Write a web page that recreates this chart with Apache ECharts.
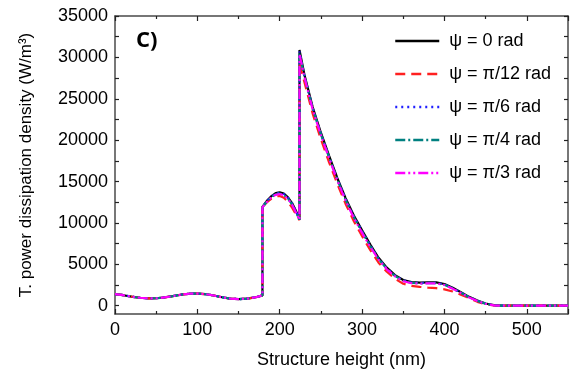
<!DOCTYPE html>
<html><head><meta charset="utf-8">
<script src="https://cdn.jsdelivr.net/npm/echarts@6/dist/echarts.min.js"></script>
<style>html,body{margin:0;padding:0;background:#fff}#c{width:570px;height:374px}</style>
</head><body><div id="c"></div>
<script>
// Structure height (nm) and dissipation density (W/m^3) per angle
const xBlack = [0,10,20,30,40,50,60,70,80,90,100,110,120,130,140,150,160,170,179,179,185,190,195,200,205,210,215,220,224,224,230,240,250,260,270,280,290,300,310,320,330,340,350,360,370,380,390,400,410,420,430,440,450,460,470,480,500,520,550];
const yPsi0   = [1400,1270,1100,960,890,900,1000,1150,1330,1450,1470,1400,1230,1020,850,800,850,1000,1250,11950,12750,13250,13600,13700,13550,13100,12400,11400,10450,30900,27900,24000,20900,18100,15400,13000,10900,9100,7400,5800,4600,3700,3100,2850,2800,2820,2820,2620,2170,1620,1070,620,270,70,0,0,0,0,0];
const yPsi12  = [1400,1270,1100,960,890,900,1000,1150,1330,1450,1470,1400,1230,1020,850,800,850,1000,1250,11900,12550,12950,13200,13250,13050,12550,11850,10950,10350,29300,27000,23200,20100,17300,14700,12300,10200,8400,6700,5200,4100,3250,2650,2400,2280,2180,2120,1980,1720,1320,920,470,170,30,0,0,0,0,0];
const yPsi6   = [1400,1270,1100,960,890,900,1000,1150,1330,1450,1470,1400,1230,1020,850,800,850,1000,1250,11950,12700,13200,13550,13650,13500,13050,12350,11350,10420,30700,27800,23900,20800,18000,15300,12900,10800,9000,7300,5700,4500,3650,3050,2800,2750,2770,2770,2560,2120,1580,1040,600,260,60,0,0,0,0,0];
const yPsi4   = [1400,1270,1100,960,890,900,1000,1150,1330,1450,1470,1400,1230,1020,850,800,850,1000,1250,11900,12650,13150,13450,13550,13400,12950,12250,11250,10400,30500,27700,23800,20700,17900,15200,12800,10700,8900,7200,5650,4450,3600,3000,2750,2700,2720,2720,2520,2080,1550,1020,580,250,60,0,0,0,0,0];
const yPsi3   = [1400,1270,1100,960,890,900,1000,1150,1330,1450,1470,1400,1230,1020,850,800,850,1000,1250,11900,12600,13100,13400,13500,13350,12900,12200,11200,10380,30400,27600,23700,20600,17800,15100,12700,10600,8800,7100,5600,4400,3550,2950,2720,2680,2700,2700,2500,2060,1530,1000,570,240,50,0,0,0,0,0];
const seriesNames = ['ψ = 0 rad','ψ = π/12 rad','ψ = π/6 rad','ψ = π/4 rad','ψ = π/3 rad'];
const yTickLabels = [0,5000,10000,15000,20000,25000,30000,35000];
const yTickMarks = [0,2500,5000,7500,10000,12500,15000,17500,20000,22500,25000,27500,30000,32500,35000];

const allY = [yPsi0,yPsi12,yPsi6,yPsi4,yPsi3];
const colors = ['#000000','#ff2020','#2020ff','#008080','#ff00ff'];
const dashes = ['solid',[10,6],[2,4],[10,3,2,3],[10,3,2,3,2,3]];
const font = 'Liberation Sans, Arial, sans-serif';
const axColor = '#4a4a4a';

const series = allY.map((ys,i)=>({
  name: seriesNames[i], type:'line', xAxisIndex:0, yAxisIndex:0,
  data: xBlack.map((x,j)=>[x,ys[j]]), symbol:'none', smooth:false,
  lineStyle:{color:colors[i], width:2.2, type:dashes[i]}, itemStyle:{color:colors[i]},
  z: 2+i, animation:false
}));

const chart = echarts.init(document.getElementById('c'));
chart.setOption({
  animation:false,
  grid:{left:115, right:2, top:16, bottom:57},
  title:{text:'C)', left:131, top:25, textStyle:{fontFamily:'Open Sans, Liberation Sans, sans-serif', fontWeight:'bold', fontSize:22, color:'#000'}},
  legend:{
    orient:'vertical', left:389, top:27, itemWidth:44, itemHeight:14, itemGap:15,
    itemStyle:{opacity:0, color:'transparent', borderWidth:0},
    lineStyle:{width:2.5},
    data:seriesNames,
    textStyle:{fontFamily:font, fontSize:18, color:'#000', padding:[0,0,0,5]}
  },
  xAxis:[{
    type:'value', min:0, max:550, interval:100, position:'bottom',
    name:'Structure height (nm)', nameLocation:'middle', nameGap:37,
    nameTextStyle:{fontFamily:font, fontSize:18, color:'#000'},
    axisLine:{onZero:false, lineStyle:{color:axColor, width:1.5}},
    axisTick:{inside:true, length:5, lineStyle:{color:'#222', width:1.2}},
    minorTick:{show:true, splitNumber:2, length:3, lineStyle:{color:'#222', width:1.2}},
    splitLine:{show:false},
    axisLabel:{fontFamily:font, fontSize:18, color:'#000', margin:7, showMaxLabel:false,
      formatter:v=> (v%100===0 ? String(v) : '')}
  },{
    type:'value', min:0, max:550, interval:100, position:'top',
    axisLine:{onZero:false, lineStyle:{color:axColor, width:1.5}},
    axisTick:{inside:true, length:5, lineStyle:{color:'#222', width:1.2}},
    minorTick:{show:true, splitNumber:2, length:3, lineStyle:{color:'#222', width:1.2}},
    splitLine:{show:false}, axisLabel:{show:false}
  }],
  yAxis:[{
    type:'value', min:-1000, max:35000, position:'left',
    name:'T. power dissipation density (W/m³)', nameLocation:'middle', nameGap:80,
    nameTextStyle:{fontFamily:font, fontSize:17, color:'#000'},
    axisLine:{onZero:false, lineStyle:{color:axColor, width:1.5}},
    axisTick:{inside:true, length:4, customValues:yTickMarks, lineStyle:{color:'#222', width:1.2}},
    splitLine:{show:false},
    axisLabel:{fontFamily:font, fontSize:18, color:'#000', margin:7, customValues:yTickLabels,
      formatter:v=>String(v)}
  },{
    type:'value', min:-1000, max:35000, position:'right',
    axisLine:{onZero:false, lineStyle:{color:axColor, width:1.5}},
    axisTick:{inside:true, length:4, customValues:yTickMarks, lineStyle:{color:'#222', width:1.2}},
    splitLine:{show:false}, axisLabel:{show:false}
  }],
  series: series
});
</script></body></html>
